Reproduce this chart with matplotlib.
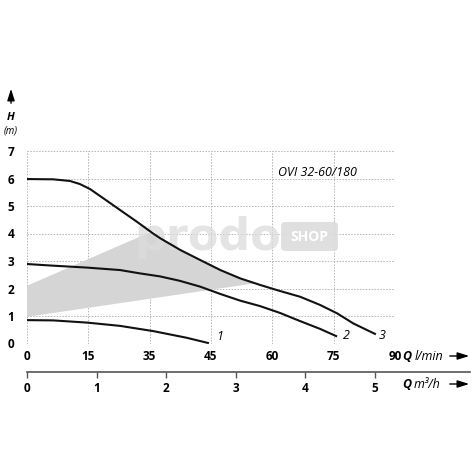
import numpy as np
import matplotlib
matplotlib.use('Agg')
import matplotlib.pyplot as plt
from matplotlib.patches import FancyBboxPatch

plt.rcParams['font.family'] = ['Open Sans', 'DejaVu Sans']

# tick values of the flow axis (unevenly spaced labels, evenly spaced grid)
q_ticks = [0, 15, 35, 45, 60, 75, 90]
h_ticks = [0, 1, 2, 3, 4, 5, 6, 7]
m3h_ticks = [0, 1, 2, 3, 4, 5]

# pump curves, Q in l/min, H in m
q1 = [0, 6.4, 14.7, 25.4, 35.6, 41, 44.5]
h1 = [0.85, 0.84, 0.76, 0.64, 0.45, 0.21, 0.02]

q2 = [0, 6.4, 14.7, 25.4, 31.8, 36.7, 39.9, 43.2, 47.3, 52.1, 57.0, 61.9, 66.7, 71.7, 75.6]
h2 = [2.89, 2.83, 2.76, 2.67, 2.55, 2.44, 2.28, 2.07, 1.80, 1.56, 1.36, 1.11, 0.82, 0.53, 0.27]

q3 = [0, 6.4, 10.5, 12.9, 15.5, 19.9, 25.4, 30.8, 35.5, 36.7, 40, 43.2, 47.3, 52.1, 57,
      61.4, 66.8, 71.7, 75.8, 79.8, 85.1]
h3 = [5.98, 5.97, 5.91, 5.80, 5.62, 5.28, 4.85, 4.43, 4.01, 3.83, 3.40, 3.04, 2.67, 2.37, 2.13,
      1.93, 1.70, 1.40, 1.10, 0.73, 0.35]

# shaded working area
shade_q = [0, 35, 35.5, 36.7, 40, 43.2, 47.3, 52.1, 55.8, 0]
shade_h = [2.10, 4.04, 4.01, 3.83, 3.40, 3.04, 2.67, 2.37, 2.19, 0.97]

idx = np.arange(len(q_ticks))


def fwd(x):
    return np.interp(x, q_ticks, idx)


def inv(x):
    return np.interp(x, idx, q_ticks)


fig = plt.figure(figsize=(4.75, 4.75), dpi=100)
W = 475.0
ax = fig.add_axes([27 / W, 1 - 343.5 / W, (395 - 27) / W, (343.5 - 151) / W])
ax.set_xscale('function', functions=(fwd, inv))
ax.set_xlim(0, 90)
ax.set_ylim(0, 7)

for q in q_ticks:
    ax.axvline(q, color='#b4b4b4', lw=0.7, ls=(0, (1.5, 1.5)), zorder=0)
for h in h_ticks:
    ax.axhline(h, color='#b4b4b4', lw=0.7, ls=(0, (1.5, 1.5)), zorder=0)

ax.fill(shade_q, shade_h, color='#d5d5d5', lw=0, zorder=1)

# watermark, kept under the curves
ax.text(207.5 / W, 1 - 250 / W, 'prodo', fontsize=32, fontweight='heavy', family='DejaVu Sans',
        color='#dcdcdc', ha='center', va='baseline', zorder=1.5, alpha=0.75,
        transform=fig.transFigure, clip_on=False)
box = FancyBboxPatch((282 / W, 1 - 250 / W), 55 / W, 27 / W, boxstyle='round,pad=0.002,rounding_size=0.008',
                     transform=fig.transFigure, color='#dcdcdc', lw=0, zorder=1.5, alpha=0.9, clip_on=False)
ax.add_patch(box)
ax.text(309.5 / W, 1 - 237 / W, 'SHOP', color='white', fontsize=10, fontweight='bold',
        ha='center', va='center', transform=fig.transFigure, zorder=1.6)

for q, h in [(q1, h1), (q2, h2), (q3, h3)]:
    ax.plot(q, h, color='#111111', lw=1.5, zorder=3)

ax.text(46.3, 0.12, '1', style='italic', fontsize=9)
ax.text(77.3, 0.15, '2', style='italic', fontsize=9)
ax.text(86.0, 0.15, '3', style='italic', fontsize=9)
ax.text(61.5, 6.1, 'OVI 32-60/180', style='italic', fontsize=9)

for s in ax.spines.values():
    s.set_visible(False)
ax.set_xticks(q_ticks)
ax.set_xticklabels([str(q) for q in q_ticks], fontweight='bold', fontsize=8.5)
ax.set_yticks(h_ticks)
ax.set_yticklabels([str(h) for h in h_ticks], fontweight='bold', fontsize=8.5)
ax.tick_params(axis='x', length=0, pad=5)
ax.tick_params(axis='y', length=0, pad=9)

# axis titles and arrows
fig.text(11 / W, 1 - 118 / W, 'H', fontweight='bold', style='italic', fontsize=8, ha='center', va='center')
fig.text(11 / W, 1 - 131 / W, '(m)', style='italic', fontsize=7, ha='center', va='center')
ax.annotate('', xy=(11 / W, 1 - 86 / W), xytext=(11 / W, 1 - 106 / W), xycoords='figure fraction',
            arrowprops=dict(arrowstyle='-|>,head_length=0.7,head_width=0.22', color='black', lw=1))

fig.text(402 / W, 1 - 356 / W, 'Q', fontsize=9, fontweight='bold', style='italic', va='center')
fig.text(415 / W, 1 - 356 / W, 'l/min', fontsize=9, style='italic', va='center')
ax.annotate('', xy=(472 / W, 1 - 356 / W), xytext=(447 / W, 1 - 356 / W), xycoords='figure fraction',
            arrowprops=dict(arrowstyle='-|>,head_length=0.7,head_width=0.22', color='black', lw=1))

# second flow axis in m3/h
ax2 = fig.add_axes([27 / W, 1 - 372 / W, (470 - 27) / W, 0.0001])
ax2.set_xlim(0, (470 - 27) / 69.6)
ax2.set_ylim(0, 1)
for k in ['top', 'left', 'right']:
    ax2.spines[k].set_visible(False)
ax2.spines['bottom'].set_color('#555555')
ax2.spines['bottom'].set_linewidth(1.2)
ax2.set_yticks([])
ax2.set_xticks(m3h_ticks)
ax2.set_xticklabels([str(m) for m in m3h_ticks], fontweight='bold', fontsize=8.5)
ax2.tick_params(axis='x', length=4, width=1, color='#555555', pad=3)
ax2.patch.set_visible(False)

fig.text(402 / W, 1 - 384 / W, 'Q', fontsize=9, fontweight='bold', style='italic', va='center')
fig.text(414 / W, 1 - 384 / W, 'm³/h', fontsize=9, style='italic', va='center')
ax.annotate('', xy=(472 / W, 1 - 384 / W), xytext=(447 / W, 1 - 384 / W), xycoords='figure fraction',
            arrowprops=dict(arrowstyle='-|>,head_length=0.7,head_width=0.22', color='black', lw=1))

fig.savefig('out.png', dpi=100)
